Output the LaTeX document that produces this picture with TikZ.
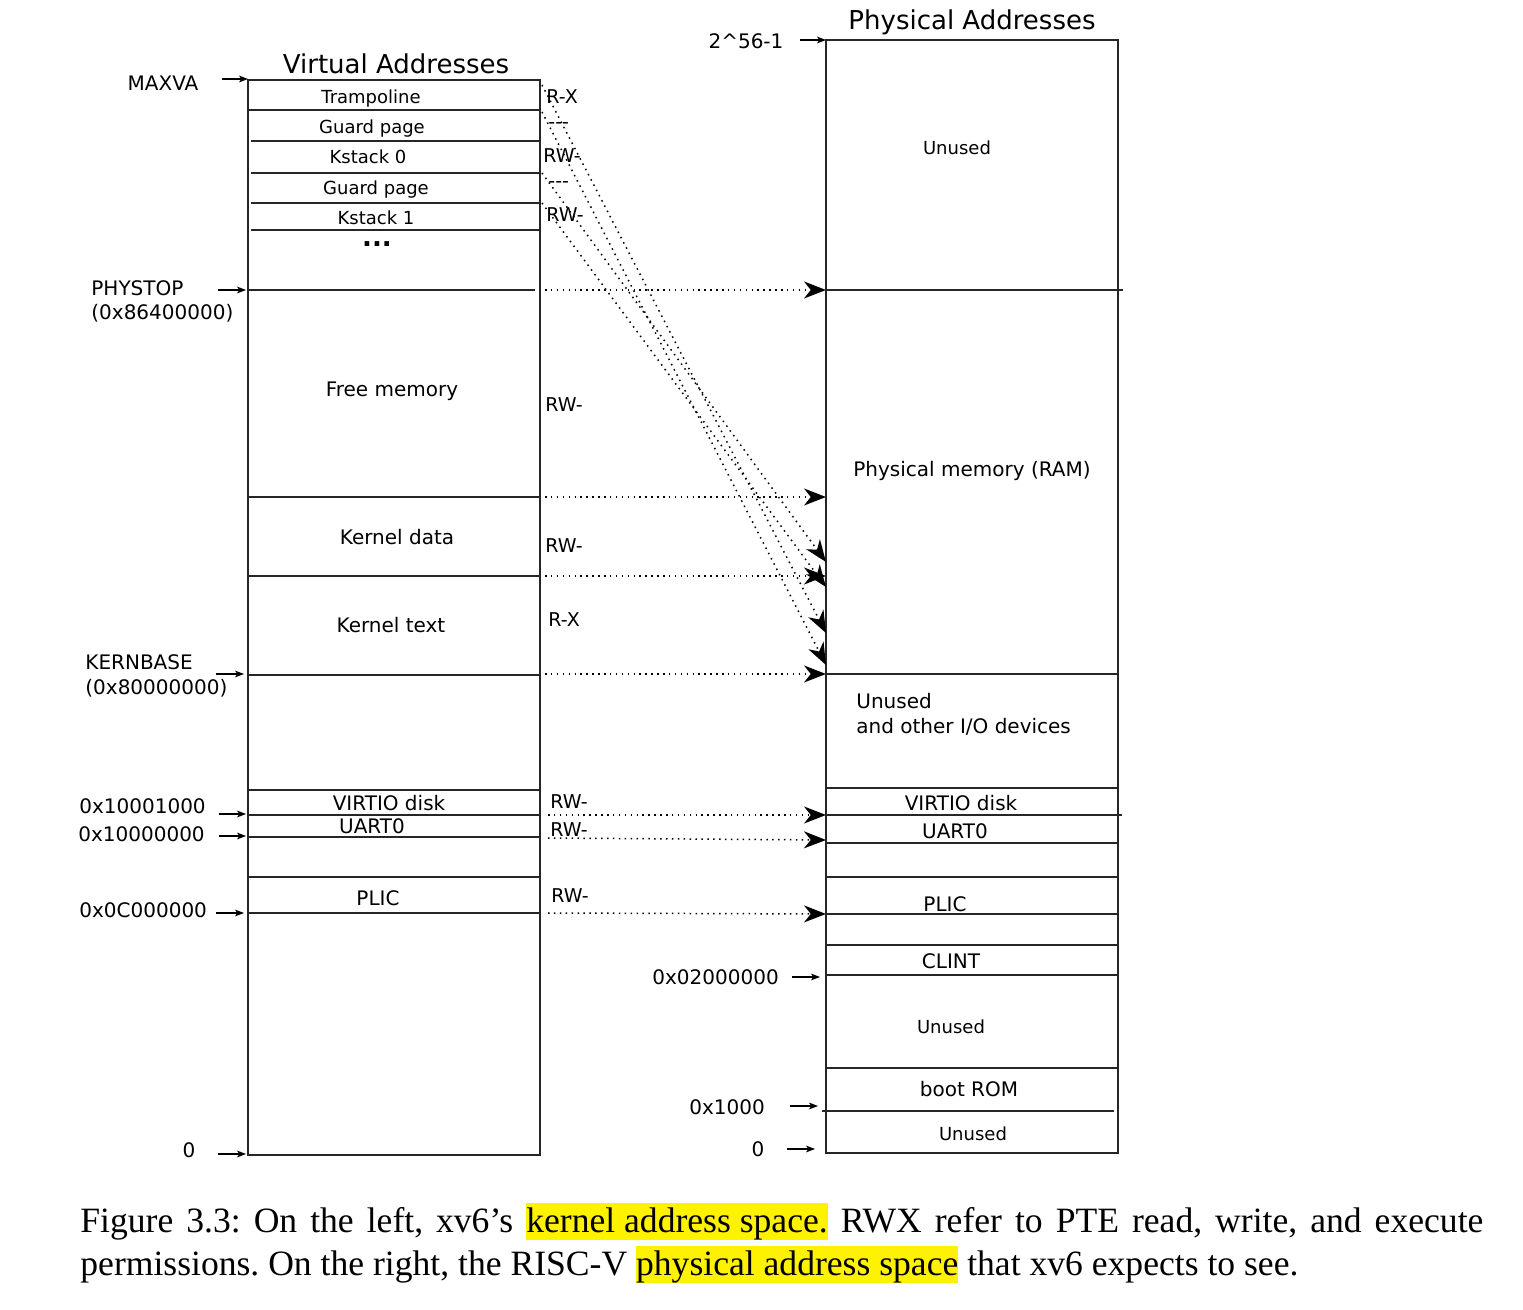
\documentclass[tikz,border=0pt]{standalone}
\usepackage{fontspec}
\setmainfont{DejaVu Sans}
\newfontfamily\capfont{Liberation Serif}
\usetikzlibrary{arrows.meta}
\newcommand\hly[1]{{\setlength{\fboxsep}{0pt}\colorbox{yellow}{\rule[-3pt]{0pt}{17.5pt}#1}}}
\begin{document}
\begin{tikzpicture}[x=0.5pt,y=-0.5pt,
  frame/.style={line width=1pt, draw=black!85},
  sepline/.style={line width=0.75pt, draw=black!85},
  mapline/.style={line width=0.75pt, dash pattern=on 0.75pt off 2.2pt,
     -{Stealth[length=11pt,width=8.5pt,inset=3.4pt]}},
  tick/.style={line width=0.6pt, -{Stealth[length=4.5pt,width=3.4pt,inset=1.2pt]}},
  lbl/.style={inner sep=0pt, font=\fontsize{10}{12}\selectfont},
  sml/.style={inner sep=0pt, font=\fontsize{9}{11}\selectfont},
  perm/.style={inner sep=0pt, anchor=west, font=\fontsize{9.5}{11}\selectfont},
  ttl/.style={inner sep=0pt, font=\fontsize{13}{15}\selectfont},
  capnode/.style={inner sep=0pt, anchor=north west, text width=701.5pt, align=justify,
     font=\capfont\fontsize{17.8}{21.5}\selectfont\frenchspacing}
]
\useasboundingbox (0,0) rectangle (1523,1310);

% ---------------- Virtual address box ----------------
\node[ttl] (vtitle) at (396,64) {Virtual Addresses};
\draw[frame] (248,80) rectangle (540,1155);
\draw[sepline] (248,110) -- (540,110);
\draw[sepline] (251,141) -- (541,141);
\draw[sepline] (251,173) -- (541,173);
\draw[sepline] (251,203) -- (541,203);
\draw[sepline] (251,230) -- (541,230);
\draw[sepline] (248,290) -- (535,290);
\draw[sepline] (248,497) -- (540,497);
\draw[sepline] (248,576) -- (540,576);
\draw[sepline] (248,675) -- (540,675);
\draw[sepline] (248,790) -- (540,790);
\draw[sepline] (248,815) -- (540,815);
\draw[sepline] (248,837) -- (540,837);
\draw[sepline] (248,877) -- (540,877);
\draw[sepline] (248,913) -- (540,913);

\node[sml] (tramp) at (371,99) {Trampoline};
\node[sml] (guard0) at (372,129) {Guard page};
\node[sml] (kst0) at (368,157) {Kstack 0};
\node[sml] (guard1) at (376,190) {Guard page};
\node[sml] (kst1) at (376,218) {Kstack 1};
\node[inner sep=0pt, anchor=base, text height=2pt, text depth=0pt,
      font=\fontsize{13}{13}\bfseries\selectfont] (vdots) at (377,247) {...};
\node[lbl] (free) at (392,391) {Free memory};
\node[lbl] (kdata) at (397,537) {Kernel data};
\node[lbl] (ktext) at (391,625) {Kernel text};
\node[lbl] (vvirtio) at (389,803) {VIRTIO disk};
\node[lbl] (vuart) at (372,826) {UART0};
\node[lbl] (vplic) at (378,898) {PLIC};

\node[perm] (p1) at (546,97) {R-X};
\node[perm] (p2) at (548,126) {-{}-{}-};
\node[perm] (p3) at (543,156) {RW-};
\node[perm] (p4) at (548,185) {-{}-{}-};
\node[perm] (p5) at (546,215) {RW-};
\node[perm] (p6) at (545,405) {RW-};
\node[perm] (p7) at (545,546) {RW-};
\node[perm] (p8) at (548,620) {R-X};
\node[perm] (p9) at (550,802) {RW-};
\node[perm] (p10) at (550,830) {RW-};
\node[perm] (p11) at (551,896) {RW-};

% left address labels
\node[lbl] (maxva) at (163,83) {MAXVA};
\node[lbl, anchor=west] (phystop) at (91,288) {PHYSTOP};
\node[lbl, anchor=west] (phystopv) at (91,313) {(0x86400000)};
\node[lbl, anchor=west] (kernbase) at (85,662) {KERNBASE};
\node[lbl, anchor=west] (kernbasev) at (85,688) {(0x80000000)};
\node[lbl, anchor=west] (avirtio) at (79,806) {0x10001000};
\node[lbl, anchor=west] (auart) at (78,834) {0x10000000};
\node[lbl, anchor=west] (aplic) at (79,910) {0x0C000000};
\node[lbl] (azero) at (189,1150) {0};

\coordinate (t1a) at (222,79);  \coordinate (t1b) at (248,79);
\coordinate (t2a) at (218,290); \coordinate (t2b) at (246,290);
\coordinate (t3a) at (216,674); \coordinate (t3b) at (244,674);
\coordinate (t4a) at (219,814); \coordinate (t4b) at (246,814);
\coordinate (t5a) at (219,836); \coordinate (t5b) at (246,836);
\coordinate (t6a) at (216,913); \coordinate (t6b) at (244,913);
\coordinate (t7a) at (218,1154); \coordinate (t7b) at (246,1154);
\draw[tick] (t1a) -- (t1b);
\draw[tick] (t2a) -- (t2b);
\draw[tick] (t3a) -- (t3b);
\draw[tick] (t4a) -- (t4b);
\draw[tick] (t5a) -- (t5b);
\draw[tick] (t6a) -- (t6b);
\draw[tick] (t7a) -- (t7b);

% ---------------- Physical address box ----------------
\node[ttl] (ptitle) at (972,22) {Physical Addresses};
\draw[frame] (826,40) rectangle (1118,1153);
\draw[sepline] (826,290) -- (1123,290);
\draw[sepline] (826,674) -- (1118,674);
\draw[sepline] (826,788) -- (1118,788);
\draw[sepline] (826,815) -- (1122,815);
\draw[sepline] (826,843) -- (1118,843);
\draw[sepline] (826,877) -- (1118,877);
\draw[sepline] (826,914) -- (1118,914);
\draw[sepline] (826,945) -- (1118,945);
\draw[sepline] (826,975) -- (1118,975);
\draw[sepline] (826,1068) -- (1118,1068);
\draw[sepline] (822,1111) -- (1114,1111);

\node[sml] (unused1) at (957,148) {Unused};
\node[lbl] (ram) at (972,471) {Physical memory (RAM)};
\node[lbl, anchor=west] (unio1) at (856,701) {Unused};
\node[lbl, anchor=west] (unio2) at (856,727) {and other I/O devices};
\node[lbl] (pvirtio) at (961,803) {VIRTIO disk};
\node[lbl] (puart) at (955,831) {UART0};
\node[lbl] (pplic) at (945,904) {PLIC};
\node[lbl] (clint) at (951,961) {CLINT};
\node[sml] (unused2) at (951,1027) {Unused};
\node[lbl] (bootrom) at (969,1089) {boot ROM};
\node[sml] (unused3) at (973,1134) {Unused};

\node[lbl] (top56) at (746,41) {2\textasciicircum 56-1};
\node[lbl, anchor=west] (aclint) at (652,977) {0x02000000};
\node[lbl, anchor=west] (aboot) at (689,1107) {0x1000};
\node[lbl] (pzero) at (758,1149) {0};

\coordinate (r1a) at (800,40);   \coordinate (r1b) at (826,40);
\coordinate (r2a) at (792,977);  \coordinate (r2b) at (820,977);
\coordinate (r3a) at (790,1106); \coordinate (r3b) at (818,1106);
\coordinate (r4a) at (787,1149); \coordinate (r4b) at (815,1149);
\draw[tick] (r1a) -- (r1b);
\draw[tick] (r2a) -- (r2b);
\draw[tick] (r3a) -- (r3b);
\draw[tick] (r4a) -- (r4b);

% ---------------- mappings ----------------
\coordinate (vphys) at (545,290);  \coordinate (pphys) at (826,290);
\coordinate (vfree) at (545,497);  \coordinate (pfree) at (826,497);
\coordinate (vdat) at (545,576);   \coordinate (pdat) at (826,576);
\coordinate (vkb) at (545,674);    \coordinate (pkb) at (826,674);
\coordinate (vvir) at (548,815);   \coordinate (pvir) at (826,815);
\coordinate (vua) at (548,838);    \coordinate (pua) at (826,840);
\coordinate (vpl) at (548,913);    \coordinate (ppl) at (826,914);
\draw[mapline] (vphys) -- (pphys);
\draw[mapline] (vfree) -- (pfree);
\draw[mapline] (vdat) -- (pdat);
\draw[mapline] (vkb) -- (pkb);
\draw[mapline] (vvir) -- (pvir);
\draw[mapline] (vua) -- (pua);
\draw[mapline] (vpl) -- (ppl);

\coordinate (dA) at (542,85);  \coordinate (eA) at (826,633);
\coordinate (dB) at (542,112); \coordinate (eB) at (826,665);
\coordinate (dC) at (542,173); \coordinate (eC) at (826,562);
\coordinate (dD) at (542,203); \coordinate (eD) at (826,587);
\draw[mapline] (dA) -- (eA);
\draw[mapline] (dB) -- (eB);
\draw[mapline] (dC) -- (eC);
\draw[mapline] (dD) -- (eD);

% ---------------- caption ----------------
\node[capnode] (caption) at (80,1203) {Figure 3.3: On the left, xv6’s \hly{kernel address space.} RWX refer to PTE read, write, and execute permissions. On the right, the RISC-V \hly{physical address space} that xv6 expects to see.};
\end{tikzpicture}
\end{document}
